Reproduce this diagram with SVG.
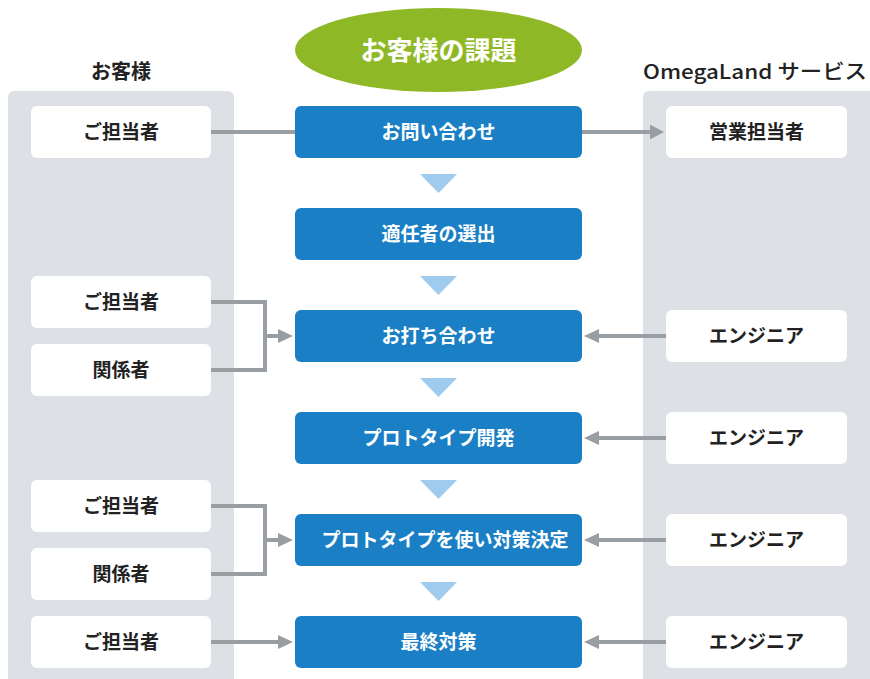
<svg xmlns="http://www.w3.org/2000/svg" width="870" height="679" viewBox="0 0 870 679">
<defs>
<style>
text{font-family:"Noto Sans CJK JP","Noto Sans",sans-serif;text-anchor:middle}
.panel{fill:#dde1e5}
.wbox{fill:#fff}
.bbox{fill:#1a7fc4}
.wt{fill:#222;font-size:19px;font-weight:700}
.bt{fill:#fff;font-size:19px;font-weight:700}
.hd{fill:#222;font-size:20px;font-weight:700}
.tri{fill:#9fcbee}
.ln{stroke:#999ea2;stroke-width:4;fill:none}
.ah{fill:#999ea2}
</style>
</defs>
<rect width="870" height="679" fill="#fff"/>
<g id="panel-left"><rect class="panel" x="8" y="91" width="226" height="600" rx="6"/><text class="hd" x="121" y="79">お客様</text></g>
<g id="panel-right"><rect class="panel" x="643" y="91" width="240" height="600" rx="6"/><text class="hd" x="755" y="79" style="font-weight:500" textLength="224" lengthAdjust="spacingAndGlyphs">OmegaLand サービス</text></g>
<g id="title"><ellipse cx="438.5" cy="50" rx="143.5" ry="42" fill="#8fb826"/><text x="438.5" y="59.5" fill="#fff" font-size="26" font-weight="700">お客様の課題</text></g>
<g id="steps-arrows">
<polygon class="tri" points="420,174 457,174 438.5,193"/>
<polygon class="tri" points="420,276 457,276 438.5,295"/>
<polygon class="tri" points="420,378 457,378 438.5,397"/>
<polygon class="tri" points="420,480 457,480 438.5,499"/>
<polygon class="tri" points="420,582 457,582 438.5,601"/>
</g>
<g id="connectors">
<path class="ln" d="M211,132 H295"/>
<path class="ln" d="M582,132 H652"/><polygon class="ah" points="650,124.5 664,132 650,139.5"/>
<path class="ln" d="M211,302 H265 V370 H211"/>
<path class="ln" d="M265,336 H280"/><polygon class="ah" points="278,329 293,336 278,343"/>
<path class="ln" d="M666,336 H597"/><polygon class="ah" points="599,329 584,336 599,343"/>
<path class="ln" d="M666,438 H597"/><polygon class="ah" points="599,431 584,438 599,445"/>
<path class="ln" d="M211,506 H265 V574 H211"/>
<path class="ln" d="M265,540 H280"/><polygon class="ah" points="278,533 293,540 278,547"/>
<path class="ln" d="M666,540 H597"/><polygon class="ah" points="599,533 584,540 599,547"/>
<path class="ln" d="M211,642 H280"/><polygon class="ah" points="278,635 293,642 278,649"/>
<path class="ln" d="M666,642 H597"/><polygon class="ah" points="599,635 584,642 599,649"/>
</g>
<g id="c1"><rect class="wbox" x="31" y="106" width="180" height="52" rx="6"/><text class="wt" x="121" y="139">ご担当者</text></g>
<g id="c2"><rect class="wbox" x="31" y="276" width="180" height="52" rx="6"/><text class="wt" x="121" y="309">ご担当者</text></g>
<g id="c3"><rect class="wbox" x="31" y="344" width="180" height="52" rx="6"/><text class="wt" x="121" y="377">関係者</text></g>
<g id="c4"><rect class="wbox" x="31" y="480" width="180" height="52" rx="6"/><text class="wt" x="121" y="513">ご担当者</text></g>
<g id="c5"><rect class="wbox" x="31" y="548" width="180" height="52" rx="6"/><text class="wt" x="121" y="581">関係者</text></g>
<g id="c6"><rect class="wbox" x="31" y="616" width="180" height="52" rx="6"/><text class="wt" x="121" y="649">ご担当者</text></g>
<g id="s1"><rect class="bbox" x="295" y="106" width="287" height="52" rx="6"/><text class="bt" x="438.5" y="139">お問い合わせ</text></g>
<g id="s2"><rect class="bbox" x="295" y="208" width="287" height="52" rx="6"/><text class="bt" x="438.5" y="241">適任者の選出</text></g>
<g id="s3"><rect class="bbox" x="295" y="310" width="287" height="52" rx="6"/><text class="bt" x="438.5" y="343">お打ち合わせ</text></g>
<g id="s4"><rect class="bbox" x="295" y="412" width="287" height="52" rx="6"/><text class="bt" x="438.5" y="445">プロトタイプ開発</text></g>
<g id="s5"><rect class="bbox" x="295" y="514" width="287" height="52" rx="6"/><text class="bt" x="445" y="547">プロトタイプを使い対策決定</text></g>
<g id="s6"><rect class="bbox" x="295" y="616" width="287" height="52" rx="6"/><text class="bt" x="438.5" y="649">最終対策</text></g>
<g id="o1"><rect class="wbox" x="666" y="106" width="181" height="52" rx="6"/><text class="wt" x="756.5" y="139">営業担当者</text></g>
<g id="o2"><rect class="wbox" x="666" y="310" width="181" height="52" rx="6"/><text class="wt" x="756.5" y="343">エンジニア</text></g>
<g id="o3"><rect class="wbox" x="666" y="412" width="181" height="52" rx="6"/><text class="wt" x="756.5" y="445">エンジニア</text></g>
<g id="o4"><rect class="wbox" x="666" y="514" width="181" height="52" rx="6"/><text class="wt" x="756.5" y="547">エンジニア</text></g>
<g id="o5"><rect class="wbox" x="666" y="616" width="181" height="52" rx="6"/><text class="wt" x="756.5" y="649">エンジニア</text></g>
</svg>
